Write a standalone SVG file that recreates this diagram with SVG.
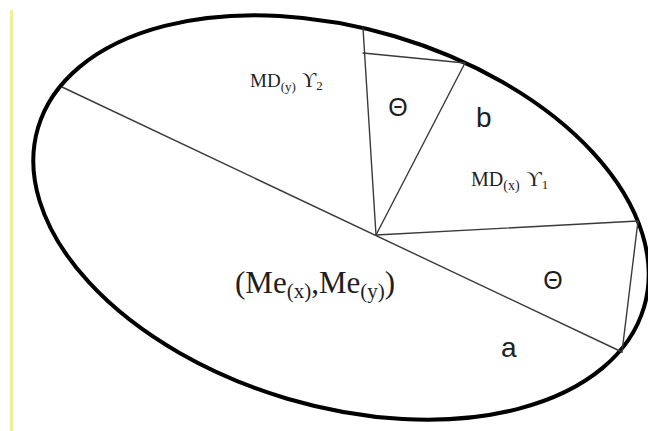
<svg xmlns="http://www.w3.org/2000/svg" width="648" height="431" viewBox="0 0 648 431">
<style>
.ln{stroke:#3a3a3a;stroke-width:1.4;fill:none;stroke-linecap:round}
.serif{font-family:"Liberation Serif","Times New Roman",serif;fill:#1e1e1e}
.sans{font-family:"Liberation Sans",Arial,sans-serif;fill:#1e1e1e}
</style>
<rect width="648" height="431" fill="#ffffff"/>
<line x1="11.5" y1="10" x2="11.5" y2="431" stroke="#eeee9c" stroke-width="3"/>
<g id="ellipse">
<ellipse cx="341" cy="217.5" rx="316" ry="189" transform="rotate(16.5 341 217.5)" fill="none" stroke="#000" stroke-width="4"/>
</g>
<g id="connectors">
<line class="ln" x1="62" y1="87" x2="622" y2="352"/>
<line class="ln" x1="376" y1="235" x2="363" y2="28"/>
<line class="ln" x1="376" y1="235" x2="465" y2="63"/>
<line class="ln" x1="363" y1="53" x2="465" y2="63"/>
<line class="ln" x1="376" y1="235" x2="638" y2="221"/>
<line class="ln" x1="638" y1="221" x2="622" y2="352"/>
</g>
<g id="label-mdy">
<text class="serif" x="250" y="87" font-size="19">MD<tspan font-size="13" dy="4">(y)</tspan><tspan dy="-4" dx="6" font-size="20">ϒ</tspan><tspan font-size="13" dy="3">2</tspan></text>
</g>
<g id="label-mdx">
<text class="serif" x="471" y="186" font-size="20">MD<tspan font-size="14" dy="4">(x)</tspan><tspan dy="-4" dx="7" font-size="21">ϒ</tspan><tspan font-size="13" dy="3">1</tspan></text>
</g>
<g id="label-theta1">
<text class="sans" x="398" y="116" font-size="25" text-anchor="middle">Θ</text>
</g>
<g id="label-theta2">
<text class="sans" x="553" y="289" font-size="25" text-anchor="middle">Θ</text>
</g>
<g id="label-b">
<text class="sans" x="476" y="127" font-size="28">b</text>
</g>
<g id="label-a">
<text class="sans" x="501" y="357" font-size="28">a</text>
</g>
<g id="label-center">
<text class="serif" x="235" y="293" font-size="31">(Me<tspan font-size="21" dy="5">(x)</tspan><tspan dy="-5">,Me</tspan><tspan font-size="21" dy="5">(y)</tspan><tspan dy="-5">)</tspan></text>
</g>
</svg>
